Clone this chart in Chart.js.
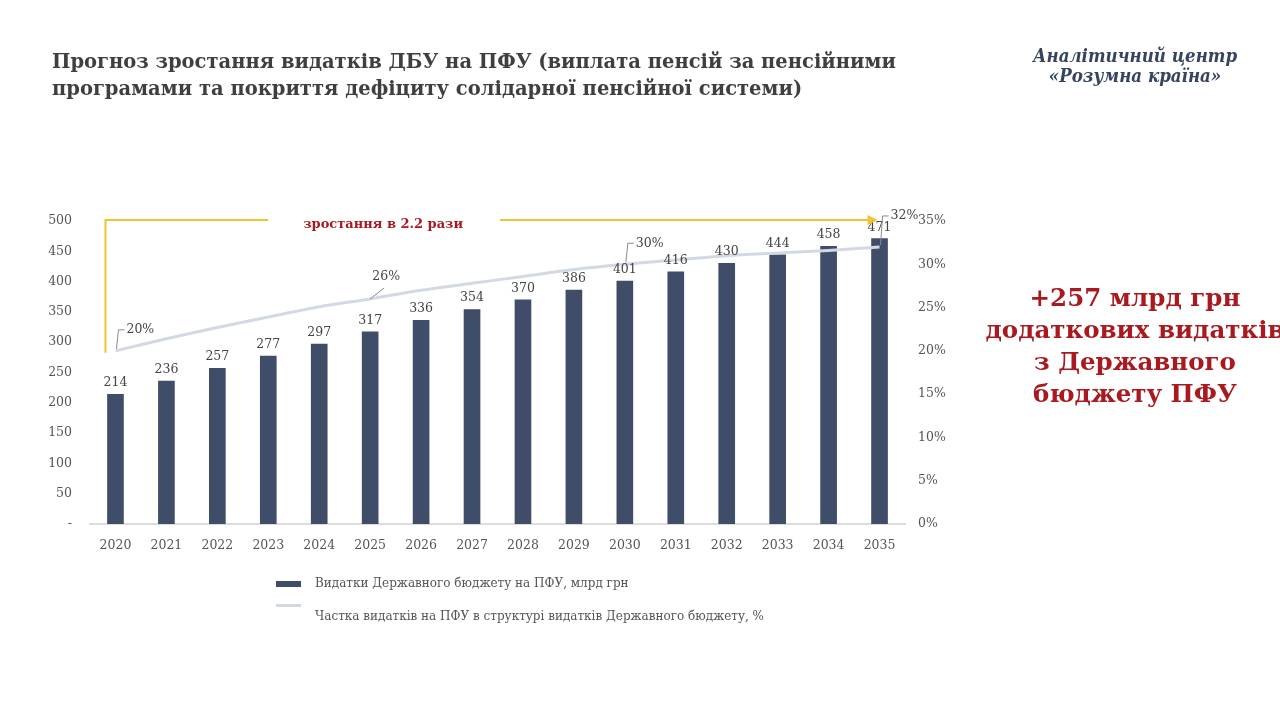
<!DOCTYPE html>
<html>
<head>
<meta charset="utf-8">
<script src="https://cdn.jsdelivr.net/npm/chart.js@4.4.1/dist/chart.umd.min.js"></script>
<style>
  body { margin: 0; width: 1280px; height: 706px; background: #fff; overflow: hidden; position: relative; font-family: "DejaVu Serif", serif; }
  #chart { position: absolute; left: 0; top: 0; }
  #title { position: absolute; left: 52px; top: 48px; width: 900px; font-family: "DejaVu Serif", serif; font-weight: bold; font-size: 19.5px; line-height: 27px; color: #3f3f3f; }
  #logo { position: absolute; left: 1005px; top: 46px; width: 260px; text-align: center; font-family: "DejaVu Serif Condensed", "DejaVu Serif", serif; font-style: italic; font-weight: bold; font-size: 18.5px; line-height: 20px; color: #36445f; }
  #note { position: absolute; left: 975px; top: 282px; width: 320px; text-align: center; font-weight: bold; font-size: 24.5px; line-height: 32px; color: #a81a1f; white-space: nowrap; }
  .legend { position: absolute; left: 276px; font-size: 12px; color: #555; white-space: nowrap; }
  .legend i { position: absolute; left: 0; width: 25px; }
  .legend span { position: absolute; left: 39px; top: -8px; }
</style>
</head>
<body>
<canvas id="chart" width="1280" height="706"></canvas>
<div id="title">Прогноз зростання видатків ДБУ на ПФУ (виплата пенсій за пенсійними<br>програмами та покриття дефіциту солідарної пенсійної системи)</div>
<div id="logo">Аналітичний центр<br>«Розумна країна»</div>
<div id="note">+257 млрд грн<br>додаткових видатків<br>з Державного<br>бюджету ПФУ</div>
<div class="legend" style="top:584px"><i style="top:-3px;height:6px;background:#3f4d68"></i><span>Видатки Державного бюджету на ПФУ, млрд грн</span></div>
<div class="legend" style="top:605px"><i style="top:-1px;height:3px;background:#d3d9e3"></i><span style="top:4px">Частка видатків на ПФУ в структурі видатків Державного бюджету, %</span></div>
<script>
  const years = ["2020", "2021", "2022", "2023", "2024", "2025", "2026", "2027",
    "2028", "2029", "2030", "2031", "2032", "2033", "2034", "2035"];
  const spending = [214, 236, 257, 277, 297, 317, 336, 354, 370, 386, 401, 416, 430, 444, 458, 471];
  const sharePct = [20, 21.4, 22.7, 23.9, 25.1, 26, 27, 27.8, 28.6, 29.4, 30, 30.5, 31, 31.3, 31.6, 32];
  const shareLabels = { 0: "20%", 5: "26%", 10: "30%", 15: "32%" };
  const growthText = "зростання в 2.2 рази";

  const textColor = "#555";
  const serif = "'DejaVu Serif', serif";

  // labels on bars, leader labels on the line and the yellow growth arrow
  const overlay = {
    id: "overlay",
    afterDatasetsDraw(chart) {
      const ctx = chart.ctx;
      const x = chart.scales.x, yBar = chart.scales.yBar;
      const bars = chart.getDatasetMeta(0).data;
      const pts = chart.getDatasetMeta(1).data;

      ctx.save();
      ctx.font = "12.5px " + serif;
      ctx.fillStyle = "#444";
      ctx.textAlign = "center";
      ctx.textBaseline = "bottom";
      bars.forEach((b, i) => ctx.fillText(spending[i], b.x, b.y - 5));

      // leader lines
      ctx.strokeStyle = "#8a8a8a";
      ctx.lineWidth = 1;
      ctx.textBaseline = "middle";
      Object.keys(shareLabels).forEach(k => {
        const p = pts[k], txt = shareLabels[k];
        ctx.beginPath();
        if (+k === 5) {
          ctx.moveTo(p.x, p.y);
          ctx.lineTo(p.x + 14, p.y - 11);
          ctx.stroke();
          ctx.textAlign = "center";
          ctx.fillText(txt, p.x + 16, p.y - 22);
        } else {
          const up = +k === 15 ? 31 : 21;
          ctx.moveTo(p.x + 1, p.y - 2);
          ctx.lineTo(p.x + 3, p.y - up);
          ctx.lineTo(p.x + 9, p.y - up);
          ctx.stroke();
          ctx.textAlign = "left";
          ctx.fillText(txt, p.x + 11, p.y - up);
        }
      });

      // growth arrow
      const x0 = x.getPixelForValue(0) - 10;
      const x1 = x.getPixelForValue(years.length - 1) - 2;
      const yTop = yBar.getPixelForValue(500) - 1;
      const yStart = pts[0].y + 2;
      const textX = x.getPixelForValue(5) + 13;
      ctx.strokeStyle = "#f1c232";
      ctx.fillStyle = "#f1c232";
      ctx.lineWidth = 2;
      ctx.beginPath();
      ctx.moveTo(x0, yStart);
      ctx.lineTo(x0, yTop);
      ctx.lineTo(textX - 115, yTop);
      ctx.moveTo(textX + 117, yTop);
      ctx.lineTo(x1 - 8, yTop);
      ctx.stroke();
      ctx.beginPath();
      ctx.moveTo(x1, yTop);
      ctx.lineTo(x1 - 10, yTop - 5);
      ctx.lineTo(x1 - 10, yTop + 5);
      ctx.closePath();
      ctx.fill();

      ctx.font = "bold 13px " + serif;
      ctx.fillStyle = "#a81a1f";
      ctx.textAlign = "center";
      ctx.fillText(growthText, textX, yTop + 5);
      ctx.restore();
    }
  };

  new Chart(document.getElementById("chart"), {
    data: {
      labels: years,
      datasets: [
        {
          type: "bar",
          label: "Видатки Державного бюджету на ПФУ, млрд грн",
          data: spending,
          yAxisID: "yBar",
          backgroundColor: "#3f4d68",
          barThickness: 16,
          order: 2
        },
        {
          type: "line",
          label: "Частка видатків на ПФУ в структурі видатків Державного бюджету, %",
          data: sharePct,
          yAxisID: "yPct",
          borderColor: "#d3d9e3",
          borderWidth: 3,
          pointRadius: 0,
          tension: 0.3,
          order: 1
        }
      ]
    },
    options: {
      responsive: false,
      animation: false,
      layout: { padding: { left: 30, top: 221, right: 305, bottom: 142 } },
      plugins: { legend: { display: false }, tooltip: { enabled: false } },
      scales: {
        x: {
          grid: { display: false, drawTicks: false },
          border: { color: "#dcdcdc", width: 2 },
          ticks: { padding: 14, color: textColor, font: { family: serif, size: 12.5 } },
          afterFit(s) { s.height = 40; }
        },
        yBar: {
          position: "left",
          min: 0,
          max: 500,
          grid: { display: false },
          border: { display: false },
          ticks: { stepSize: 50, padding: 10, color: textColor, font: { family: serif, size: 12.5 },
            callback: v => v === 0 ? "-" : v },
          afterFit(s) { s.width = 60; }
        },
        yPct: {
          position: "right",
          min: 0,
          max: 35,
          grid: { display: false },
          border: { display: false },
          ticks: { stepSize: 5, padding: 5, color: textColor, font: { family: serif, size: 12.5 },
            callback: v => v + "%" },
          afterFit(s) { s.width = 70; }
        }
      }
    },
    plugins: [overlay]
  });
</script>
</body>
</html>
